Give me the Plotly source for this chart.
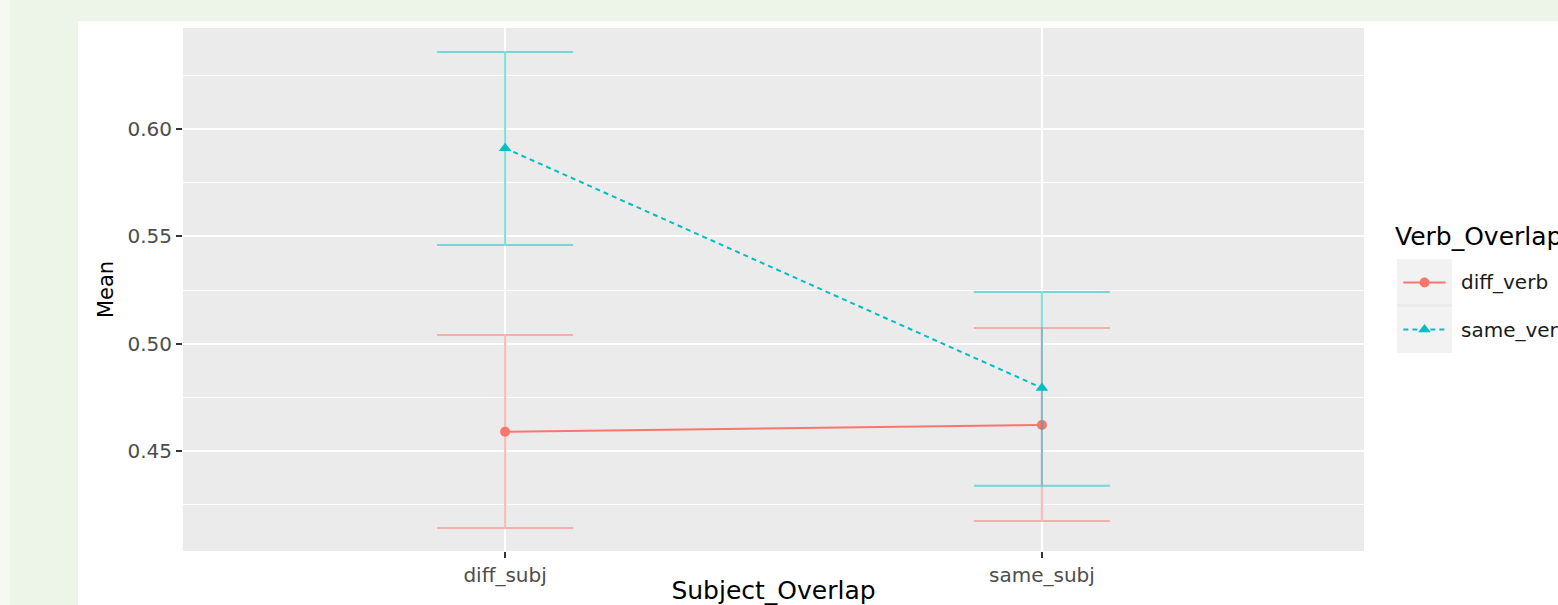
import plotly.graph_objects as go

# ---- data ----
subject_overlap = ["diff_subj", "same_subj"]
verb_levels = ["diff_verb", "same_verb"]
mean_diff_verb = [0.4590, 0.4621]
upper_diff_verb = [0.5040, 0.5073]
lower_diff_verb = [0.4141, 0.4174]
mean_same_verb = [0.5911, 0.4794]
upper_same_verb = [0.6359, 0.5241]
lower_same_verb = [0.5460, 0.4338]
y_ticks = [0.45, 0.50, 0.55, 0.60]
y_tick_text = ["0.45", "0.50", "0.55", "0.60"]

W, H = 1558, 605
RED = "#F8766D"
CYAN = "#00BFC4"
FONT = "DejaVu Sans, Arial, sans-serif"

def px_x(p):
    return p / W

def px_y(p):
    return 1 - p / H

fig = go.Figure()

series = [
    (verb_levels[0], mean_diff_verb, upper_diff_verb, lower_diff_verb, RED,
     "rgba(248,118,109,0.5)", "circle", "solid", 10),
    (verb_levels[1], mean_same_verb, upper_same_verb, lower_same_verb, CYAN,
     "rgba(0,191,196,0.5)", "triangle-up", "5px,4px", 11),
]
for name, m, up, lo, col, ecol, sym, dash, msize in series:
    fig.add_trace(go.Scatter(
        x=subject_overlap, y=m, name=name, mode="lines+markers",
        line=dict(color=col, width=2, dash=dash),
        marker=dict(color=col, symbol=sym, size=msize, line=dict(width=0)),
        error_y=dict(type="data", symmetric=False,
                     array=[u - v for u, v in zip(up, m)],
                     arrayminus=[v - l for v, l in zip(m, lo)],
                     color=ecol, thickness=2, width=68),
        showlegend=False, xaxis="x", yaxis="y",
    ))

# legend glyphs (drawn on a small helper axis in the legend area)
for i, (name, m, up, lo, col, ecol, sym, dash, msize) in enumerate(series):
    fig.add_trace(go.Scatter(
        x=[0, 0.5, 1], y=[1 - i] * 3, mode="lines",
        line=dict(color=col, width=2, dash=dash),
        showlegend=False, xaxis="x2", yaxis="y2", hoverinfo="skip",
    ))
    fig.add_trace(go.Scatter(
        x=[0.5], y=[1 - i], mode="markers",
        marker=dict(color=col, symbol=sym, size=msize, line=dict(width=0)),
        showlegend=False, xaxis="x2", yaxis="y2", hoverinfo="skip",
    ))

panel_l, panel_r, panel_t, panel_b = 183, 1364, 28, 551

shapes = [
    # screenshot surround
    dict(type="rect", xref="paper", yref="paper", x0=0, x1=1, y0=px_y(21), y1=1,
         fillcolor="#EDF4E8", line=dict(width=0), layer="below"),
    dict(type="rect", xref="paper", yref="paper", x0=0, x1=px_x(78), y0=0, y1=1,
         fillcolor="#EDF4E8", line=dict(width=0), layer="below"),
    dict(type="rect", xref="paper", yref="paper", x0=0, x1=px_x(10), y0=0, y1=1,
         fillcolor="#F5F9F2", line=dict(width=0), layer="below"),
    # legend key boxes
    dict(type="rect", xref="paper", yref="paper", x0=px_x(1397), x1=px_x(1452),
         y0=px_y(304), y1=px_y(259), fillcolor="#F2F2F2", line=dict(width=0), layer="below"),
    dict(type="rect", xref="paper", yref="paper", x0=px_x(1397), x1=px_x(1452),
         y0=px_y(353), y1=px_y(307), fillcolor="#F2F2F2", line=dict(width=0), layer="below"),
]

annotations = [
    dict(text="Verb_Overlap", xref="paper", yref="paper", x=px_x(1393), y=px_y(237),
         xanchor="left", yanchor="middle", showarrow=False,
         font=dict(family=FONT, size=25, color="#000000")),
    dict(text=verb_levels[0], xref="paper", yref="paper", x=px_x(1459), y=px_y(282),
         xanchor="left", yanchor="middle", showarrow=False,
         font=dict(family=FONT, size=20, color="#1A1A1A")),
    dict(text=verb_levels[1], xref="paper", yref="paper", x=px_x(1459), y=px_y(330),
         xanchor="left", yanchor="middle", showarrow=False,
         font=dict(family=FONT, size=20, color="#1A1A1A")),
]

fig.update_layout(
    width=W, height=H,
    margin=dict(l=0, r=0, t=0, b=0),
    paper_bgcolor="white",
    plot_bgcolor="#EBEBEB",
    font=dict(family=FONT),
    showlegend=False,
    shapes=shapes,
    annotations=annotations,
    xaxis=dict(
        domain=[px_x(panel_l), px_x(panel_r)],
        type="category", range=[-0.6, 1.6],
        showgrid=True, gridcolor="white", gridwidth=2,
        zeroline=False, showline=False,
        ticks="outside", ticklen=6, tickwidth=2, tickcolor="#333333",
        tickfont=dict(family=FONT, size=20, color="#4D4D4D"),
        title=dict(text="Subject_Overlap", standoff=2,
                   font=dict(family=FONT, size=25, color="#000000")),
        automargin=False, fixedrange=True,
    ),
    yaxis=dict(
        domain=[px_y(panel_b), px_y(panel_t)],
        range=[0.4034, 0.6471],
        tickvals=y_ticks, ticktext=y_tick_text,
        showgrid=True, gridcolor="white", gridwidth=2,
        minor=dict(dtick=0.025, tick0=0.425, showgrid=True, gridcolor="white",
                   gridwidth=1, ticks=""),
        zeroline=False, showline=False,
        ticks="outside", ticklen=6, tickwidth=2, tickcolor="#333333",
        tickfont=dict(family=FONT, size=20, color="#4D4D4D"),
        title=dict(text="Mean", standoff=8,
                   font=dict(family=FONT, size=21, color="#000000")),
        automargin=False, fixedrange=True,
    ),
    xaxis2=dict(domain=[px_x(1397), px_x(1452)], range=[-0.15, 1.15],
                visible=False, fixedrange=True, anchor="y2"),
    yaxis2=dict(domain=[px_y(353), px_y(259)], range=[-0.5, 1.5],
                visible=False, fixedrange=True, anchor="x2"),
)

fig.write_html(
    "out.html",
    config={"displayModeBar": False},
    post_script="document.body.style.margin='0';document.body.style.overflow='hidden';",
)
